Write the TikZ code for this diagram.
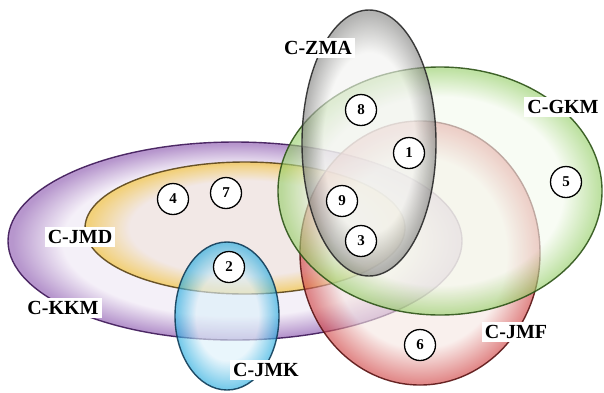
\documentclass[tikz,border=0pt]{standalone}
\usepackage{fontspec}
\setmainfont{Liberation Serif}
\definecolor{kkmin}{HTML}{EEE6F4}\definecolor{kkmrim}{HTML}{8A56AE}\definecolor{kkmline}{HTML}{3E1858}
\definecolor{jmdin}{HTML}{F2E4DC}\definecolor{jmdrim}{HTML}{F2BE2E}\definecolor{jmdline}{HTML}{5A4418}
\definecolor{jmkin}{HTML}{DCF0FA}\definecolor{jmkrim}{HTML}{22AADE}\definecolor{jmkline}{HTML}{103C58}
\definecolor{zmain}{HTML}{F2F2F0}\definecolor{zmarim}{HTML}{848482}\definecolor{zmaline}{HTML}{2A2A2A}
\definecolor{gkmin}{HTML}{F4FAEE}\definecolor{gkmrim}{HTML}{98D06C}\definecolor{gkmline}{HTML}{2E5418}
\definecolor{jmfin}{HTML}{F6E6E2}\definecolor{jmfrim}{HTML}{D04444}\definecolor{jmfline}{HTML}{5A1414}
\pgfdeclareradialshading{shkkm}{\pgfpoint{0bp}{0bp}}{color(0bp)=(kkmin); color(19bp)=(kkmin); color(24.5bp)=(kkmrim); color(50bp)=(kkmrim)}
\pgfdeclareradialshading{shjmd}{\pgfpoint{0bp}{0bp}}{color(0bp)=(jmdin); color(18bp)=(jmdin); color(24.5bp)=(jmdrim); color(50bp)=(jmdrim)}
\pgfdeclareradialshading{shjmk}{\pgfpoint{0bp}{0bp}}{color(0bp)=(jmkin); color(15bp)=(jmkin); color(24.5bp)=(jmkrim); color(50bp)=(jmkrim)}
\pgfdeclareradialshading{shzma}{\pgfpoint{0bp}{0bp}}{color(0bp)=(zmain); color(17bp)=(zmain); color(24.5bp)=(zmarim); color(50bp)=(zmarim)}
\pgfdeclareradialshading{shgkm}{\pgfpoint{0bp}{0bp}}{color(0bp)=(gkmin); color(19bp)=(gkmin); color(24.5bp)=(gkmrim); color(50bp)=(gkmrim)}
\pgfdeclareradialshading{shjmf}{\pgfpoint{0bp}{0bp}}{color(0bp)=(jmfin); color(18bp)=(jmfin); color(24.5bp)=(jmfrim); color(50bp)=(jmfrim)}
\tikzset{
  setshade/.style={fill opacity=0.62},
  setline/.style={line width=1.4pt, draw opacity=0.9},
  numc/.style={circle, draw=black, line width=1.3pt, fill=white, minimum size=31pt, inner sep=0pt, font=\fontsize{15}{15}\selectfont\bfseries},
  setlabel/.style={fill=white, inner sep=3pt, font=\fontsize{20}{20}\selectfont\bfseries}
}
\begin{document}
\begin{tikzpicture}[x=1pt,y=-1pt]
\useasboundingbox (0,0) rectangle (604,392);
% C-KKM
\shade[shading=shkkm, setshade] (235,241) ellipse [x radius=227pt, y radius=99pt];
\draw[kkmline, setline] (235,241) ellipse [x radius=227pt, y radius=99pt];
% C-JMD
\shade[shading=shjmd, setshade] (245,228) ellipse [x radius=160pt, y radius=66pt];
\draw[jmdline, setline] (245,228) ellipse [x radius=160pt, y radius=66pt];
% C-JMK
\shade[shading=shjmk, setshade] (227,316) ellipse [x radius=52pt, y radius=74pt];
\draw[jmkline, setline] (227,316) ellipse [x radius=52pt, y radius=74pt];
% C-JMF
\shade[shading=shjmf, setshade] (420,253) ellipse [x radius=120pt, y radius=132pt];
\draw[jmfline, setline] (420,253) ellipse [x radius=120pt, y radius=132pt];
% C-GKM
\shade[shading=shgkm, setshade] (440,191) ellipse [x radius=162pt, y radius=124pt];
\draw[gkmline, setline] (440,191) ellipse [x radius=162pt, y radius=124pt];
% C-ZMA
\shade[shading=shzma, setshade] (369,143) ellipse [x radius=67pt, y radius=133pt];
\draw[zmaline, setline] (369,143) ellipse [x radius=67pt, y radius=133pt];
% labels
\node[setlabel] (lzma) at (318,48) {C-ZMA};
\node[setlabel] (lgkm) at (563,107) {C-GKM};
\node[setlabel] (ljmd) at (80,237) {C-JMD};
\node[setlabel] (lkkm) at (63,308) {C-KKM};
\node[setlabel] (ljmk) at (266,370) {C-JMK};
\node[setlabel] (ljmf) at (516,332) {C-JMF};
% numbers
\node[numc] (n1) at (409,153) {1};
\node[numc] (n2) at (229,267) {2};
\node[numc] (n3) at (361,241) {3};
\node[numc] (n4) at (173,199) {4};
\node[numc] (n5) at (566,182) {5};
\node[numc] (n6) at (420,345) {6};
\node[numc] (n7) at (226,193) {7};
\node[numc] (n8) at (361,110) {8};
\node[numc] (n9) at (342,201) {9};
\end{tikzpicture}
\end{document}
